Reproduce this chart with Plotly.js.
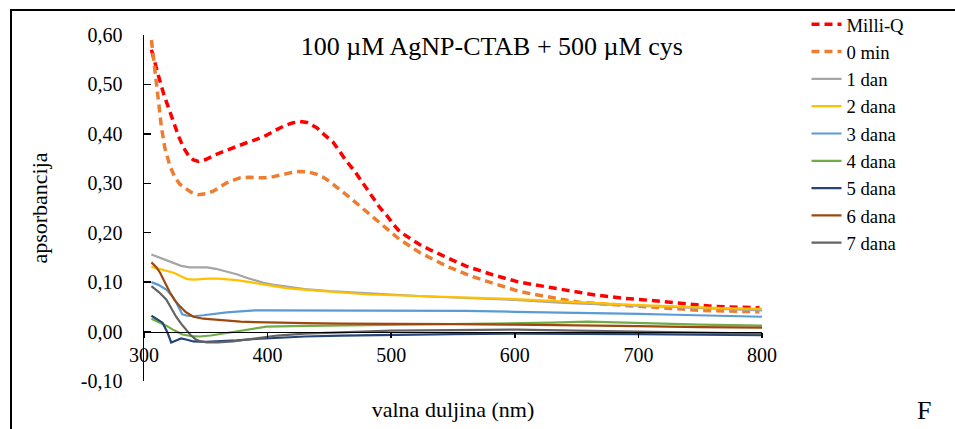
<!DOCTYPE html>
<html>
<head>
<meta charset="utf-8">
<script src="https://cdn.plot.ly/plotly-3.0.1.min.js"></script>
<style>html,body{margin:0;padding:0;background:#fff;}#chart{width:955px;height:429px;}</style>
</head>
<body>
<div id="chart"></div>
<script>
// ---- data ----
const seriesNames = ["Milli-Q", "0 min", "1 dan", "2 dana", "3 dana", "4 dana", "5 dana", "6 dana", "7 dana"];

const wlMilliQ = [306,309,312,316,320,324,328,332,336,340,344,350,358,366,375,383,391,399,407,414,420,426,432,440,446,453,459,464,470,475,480,485,491,497,502,507,515,523,531,539,550,561,571,582,592,602,615,628,640,653,665,677,689,701,714,726,738,750,761,772,785,798];
const absMilliQ = [0.57,0.545,0.515,0.48,0.45,0.42,0.395,0.372,0.356,0.347,0.344,0.348,0.358,0.366,0.375,0.382,0.389,0.397,0.408,0.417,0.422,0.425,0.423,0.412,0.398,0.383,0.362,0.344,0.326,0.308,0.289,0.27,0.25,0.233,0.216,0.202,0.188,0.176,0.166,0.156,0.144,0.132,0.123,0.115,0.108,0.101,0.095,0.089,0.084,0.079,0.074,0.070,0.067,0.065,0.062,0.059,0.056,0.053,0.051,0.050,0.049,0.048];

const wl0min = [306,308,310,312,314,317,321,325,329,333,338,344,350,356,361,367,373,378,385,392,398,404,410,418,426,433,440,445,450,455,460,467,475,483,491,499,507,515,523,534,545,556,566,577,588,596,604,616,628,641,653,665,677,689,701,714,726,738,750,763,775,788,798];
const abs0min = [0.59,0.55,0.5,0.46,0.415,0.37,0.335,0.312,0.298,0.29,0.282,0.277,0.279,0.284,0.292,0.301,0.307,0.311,0.312,0.311,0.311,0.313,0.317,0.321,0.324,0.323,0.318,0.312,0.304,0.295,0.284,0.27,0.253,0.237,0.221,0.204,0.186,0.173,0.160,0.146,0.132,0.121,0.111,0.102,0.093,0.087,0.081,0.075,0.069,0.064,0.059,0.057,0.055,0.052,0.050,0.048,0.046,0.044,0.043,0.042,0.041,0.040,0.040];

const wl1dan = [306,312,318,324,330,337,344,351,358,367,375,383,390,396,404,415,430,450,475,500,530,560,600,640,680,720,760,800];
const abs1dan = [0.156,0.150,0.145,0.139,0.133,0.130,0.130,0.130,0.127,0.122,0.116,0.109,0.103,0.099,0.095,0.091,0.086,0.082,0.078,0.075,0.071,0.068,0.064,0.058,0.054,0.050,0.046,0.043];

const wl2dana = [306,312,318,324,330,335,341,351,360,367,375,383,392,404,415,429,443,456,470,483,497,510,537,564,596,630,660,695,730,760,800];
const abs2dana = [0.131,0.127,0.123,0.119,0.112,0.106,0.105,0.107,0.107,0.106,0.104,0.101,0.097,0.092,0.088,0.085,0.082,0.079,0.077,0.075,0.074,0.073,0.070,0.068,0.066,0.062,0.058,0.054,0.051,0.048,0.046];

const wl3dana = [306,312,318,322,326,329,331,335,340,348,356,367,378,390,400,420,450,480,500,530,560,600,630,669,700,730,750,780,800];
const abs3dana = [0.100,0.094,0.085,0.074,0.059,0.045,0.035,0.032,0.031,0.033,0.036,0.039,0.041,0.043,0.043,0.043,0.043,0.043,0.042,0.042,0.042,0.040,0.039,0.038,0.036,0.034,0.033,0.031,0.030];

const wl4dana = [306,312,318,324,331,338,345,354,364,374,383,392,399,420,450,500,550,600,630,659,700,750,800];
const abs4dana = [0.026,0.019,0.012,0.003,-0.006,-0.009,-0.010,-0.008,-0.004,0.000,0.004,0.008,0.010,0.011,0.012,0.013,0.015,0.017,0.018,0.020,0.017,0.014,0.012];

const wl5dana = [306,310,315,319,322,326,330,334,340,350,360,375,390,410,430,460,500,550,600,650,700,750,800];
const abs5dana = [0.032,0.026,0.018,-0.002,-0.022,-0.018,-0.014,-0.016,-0.020,-0.021,-0.020,-0.018,-0.015,-0.012,-0.010,-0.008,-0.006,-0.005,-0.004,-0.004,-0.005,-0.006,-0.007];

const wl6dana = [306,310,313,317,321,325,329,334,340,348,356,367,378,390,404,430,460,500,550,600,650,700,750,780,800];
const abs6dana = [0.140,0.130,0.119,0.099,0.079,0.063,0.051,0.039,0.030,0.026,0.024,0.022,0.020,0.019,0.018,0.017,0.016,0.016,0.015,0.014,0.013,0.011,0.009,0.008,0.008];

const wl7dana = [306,312,318,322,326,330,334,338,342,346,351,360,372,383,394,408,430,469,500,550,602,650,700,750,800];
const abs7dana = [0.092,0.080,0.065,0.048,0.030,0.016,0.004,-0.008,-0.016,-0.020,-0.022,-0.022,-0.020,-0.016,-0.012,-0.008,-0.004,0.000,0.002,0.003,0.004,0.002,0.000,-0.002,-0.004];

const yTickVals = [-0.1, 0, 0.1, 0.2, 0.3, 0.4, 0.5, 0.6];
const yTickText = ["-0,10", "0,00", "0,10", "0,20", "0,30", "0,40", "0,50", "0,60"];

// ---- styling ----
const FONT = "Liberation Serif, serif";
const xs = [wlMilliQ, wl0min, wl1dan, wl2dana, wl3dana, wl4dana, wl5dana, wl6dana, wl7dana];
const ys = [absMilliQ, abs0min, abs1dan, abs2dana, abs3dana, abs4dana, abs5dana, abs6dana, abs7dana];
const colors = ["#FF0000", "#ED7D31", "#A5A5A5", "#FFC000", "#5B9BD5", "#70AD47", "#264478", "#9E480E", "#636363"];

const traces = seriesNames.map((name, i) => ({
  type: "scatter",
  mode: "lines",
  name: name,
  x: xs[i],
  y: ys[i],
  line: i < 2
    ? {color: colors[i], width: 3.5, dash: "8px,5px"}
    : {color: colors[i], width: 2.2},
  hoverinfo: "x+y+name"
}));

const layout = {
  width: 955,
  height: 429,
  margin: {l: 144, r: 193, t: 35, b: 48, autoexpand: false},
  paper_bgcolor: "#ffffff",
  plot_bgcolor: "rgba(0,0,0,0)",
  font: {family: FONT, color: "#000000"},
  showlegend: true,
  title: {
    text: "100 µM AgNP-CTAB + 500 µM cys",
    font: {family: FONT, size: 26, color: "#000000"},
    x: 0.515, xanchor: "center",
    y: 0.893, yanchor: "middle"
  },
  xaxis: {
    range: [300, 800],
    tick0: 300, dtick: 100,
    anchor: "free",
    position: 1/7,
    showline: true, linecolor: "#000000", linewidth: 1.5,
    ticks: "outside", ticklen: 5, tickcolor: "#000000", tickwidth: 1.5,
    showgrid: false, zeroline: false,
    tickfont: {family: FONT, size: 20, color: "#000000"},
    title: {text: "valna duljina (nm)", font: {family: FONT, size: 22, color: "#000000"}, standoff: 36}
  },
  yaxis: {
    range: [-0.1, 0.6],
    tickvals: yTickVals,
    ticktext: yTickText,
    showline: true, linecolor: "#000000", linewidth: 1.5,
    ticks: "inside", ticklen: 7, tickcolor: "#000000", tickwidth: 1.5,
    ticklabelstandoff: 16,
    showgrid: false, zeroline: false,
    tickfont: {family: FONT, size: 20, color: "#000000"},
    title: {text: "apsorbancija", font: {family: FONT, size: 22, color: "#000000"}, standoff: 27}
  },
  legend: {
    x: 1.072, y: 1.085, xanchor: "left", yanchor: "top",
    font: {family: FONT, size: 18.7, color: "#000000"},
    bgcolor: "rgba(0,0,0,0)",
    borderwidth: 0,
    maxheight: 1000
  },
  shapes: [{
    type: "rect", xref: "paper", yref: "paper",
    x0: -0.2152, x1: 1.40, y0: -0.18, y1: 1.0723,
    line: {color: "#000000", width: 2},
    fillcolor: "rgba(0,0,0,0)",
    layer: "below"
  }],
  annotations: [{
    text: "F", xref: "paper", yref: "paper",
    x: 1.262, y: -0.084, xanchor: "center", yanchor: "middle",
    showarrow: false,
    font: {family: FONT, size: 26, color: "#000000"}
  }]
};

Plotly.newPlot("chart", traces, layout, {displayModeBar: false, staticPlot: true});
</script>
</body>
</html>
